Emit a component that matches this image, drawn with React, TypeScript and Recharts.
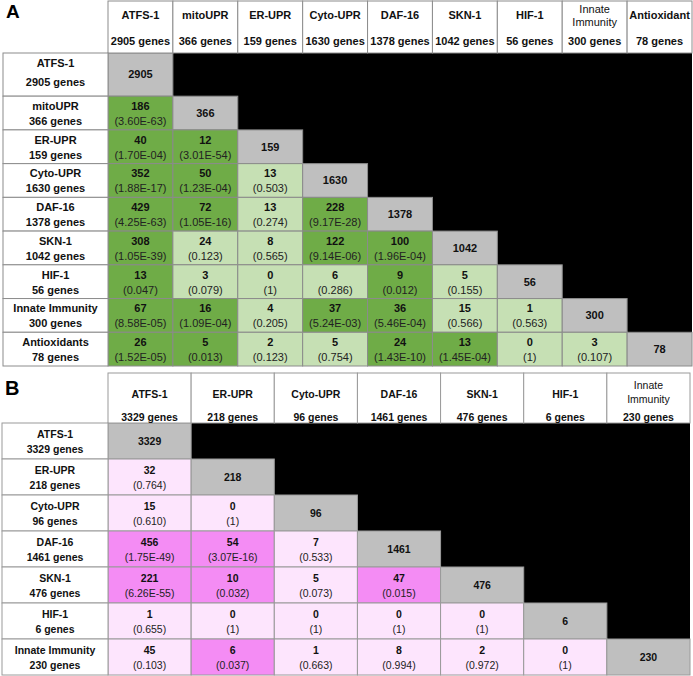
import React from "react"
import { ScatterChart, Scatter, XAxis, YAxis, ReferenceArea } from "recharts"

// Panel A
const aRowLabels = ["ATFS-1", "mitoUPR", "ER-UPR", "Cyto-UPR", "DAF-16", "SKN-1", "HIF-1", "Innate Immunity", "Antioxidants"]
const aColLabels = ["ATFS-1", "mitoUPR", "ER-UPR", "Cyto-UPR", "DAF-16", "SKN-1", "HIF-1", "Innate\nImmunity", "Antioxidant"]
const aGenes = [2905, 366, 159, 1630, 1378, 1042, 56, 300, 78]
const aOverlap = [
    [],
    [186],
    [40, 12],
    [352, 50, 13],
    [429, 72, 13, 228],
    [308, 24, 8, 122, 100],
    [13, 3, 0, 6, 9, 5],
    [67, 16, 4, 37, 36, 15, 1],
    [26, 5, 2, 5, 24, 13, 0, 3],
]
const aPValues = [
    [],
    ["3.60E-63"],
    ["1.70E-04", "3.01E-54"],
    ["1.88E-17", "1.23E-04", "0.503"],
    ["4.25E-63", "1.05E-16", "0.274", "9.17E-28"],
    ["1.05E-39", "0.123", "0.565", "9.14E-06", "1.96E-04"],
    ["0.047", "0.079", "1", "0.286", "0.012", "0.155"],
    ["8.58E-05", "1.09E-04", "0.205", "5.24E-03", "5.46E-04", "0.566", "0.563"],
    ["1.52E-05", "0.013", "0.123", "0.754", "1.43E-10", "1.45E-04", "1", "0.107"],
]

// Panel B
const bRowLabels = ["ATFS-1", "ER-UPR", "Cyto-UPR", "DAF-16", "SKN-1", "HIF-1", "Innate Immunity"]
const bColLabels = ["ATFS-1", "ER-UPR", "Cyto-UPR", "DAF-16", "SKN-1", "HIF-1", "Innate\nImmunity"]
const bGenes = [3329, 218, 96, 1461, 476, 6, 230]
const bOverlap = [
    [],
    [32],
    [15, 0],
    [456, 54, 7],
    [221, 10, 5, 47],
    [1, 0, 0, 0, 0],
    [45, 6, 1, 8, 2, 0],
]
const bPValues = [
    [],
    ["0.764"],
    ["0.610", "1"],
    ["1.75E-49", "3.07E-16", "0.533"],
    ["6.26E-55", "0.032", "0.073", "0.015"],
    ["0.655", "1", "1", "1", "1"],
    ["0.103", "0.037", "0.663", "0.994", "0.972", "1"],
]

const FONT = "'Liberation Sans', Arial, sans-serif"
const SIG = 0.05

type PanelProps = {
    top: number
    width: number
    height: number
    margin: { top: number; left: number; right: number; bottom: number }
    headerH: number
    labelW: number
    firstRowExtra: number
    rowLabels: string[]
    colLabels: string[]
    genes: number[]
    overlap: number[][]
    pvalues: string[][]
    sigColor: string
    nsColor: string
    lineColor: string
    font: number
    headerLines: { single: number; two: [number, number]; genes: number }
}

function Panel(p: PanelProps) {
    const n = p.genes.length
    const extra = p.firstRowExtra
    const rowTop = (i: number) => (i === 0 ? 0 : i + extra)
    const rowBottom = (i: number) => i + 1 + extra
    const rowCenter = (i: number) => (rowTop(i) + rowBottom(i)) / 2
    const yMax = n + extra

    const plotLeft = p.margin.left + p.labelW
    const plotTop = p.margin.top + p.headerH
    const plotW = p.width - plotLeft - p.margin.right
    const plotH = p.height - plotTop - p.margin.bottom
    const colW = plotW / n
    const ppu = plotH / yMax
    const rowH = (i: number) => (rowBottom(i) - rowTop(i)) * ppu
    const rowOf = (v: number) => (v < 1 + extra ? 0 : Math.floor(v - extra))

    const cells: any[] = []
    p.genes.forEach((g, i) => {
        for (let j = 0; j <= i; j++) {
            const diag = i === j
            cells.push({
                x: j + 0.5,
                y: rowCenter(i),
                row: i,
                diag,
                value: diag ? g : p.overlap[i][j],
                p: diag ? null : p.pvalues[i][j],
            })
        }
    })

    const headerTick = (props: any) => {
        const { x, payload } = props
        const idx = Math.floor(payload.value)
        const parts = p.colLabels[idx].split("\n")
        const hl = p.headerLines
        return (
            <g>
                <rect x={x - colW / 2} y={p.margin.top} width={colW} height={p.headerH} fill="#fff" stroke={p.lineColor} />
                {parts.length === 1 ? (
                    <text x={x} y={p.margin.top + hl.single} textAnchor="middle" dy="0.35em" fontSize={p.font} fontWeight="bold" fontFamily={FONT} fill="#111">{parts[0]}</text>
                ) : (
                    parts.map((t, k) => (
                        <text key={k} x={x} y={p.margin.top + hl.two[k]} textAnchor="middle" dy="0.35em" fontSize={p.font} fontFamily={FONT} fill="#111">{t}</text>
                    ))
                )}
                <text x={x} y={p.margin.top + hl.genes} textAnchor="middle" dy="0.35em" fontSize={p.font} fontWeight="bold" fontFamily={FONT} fill="#111">{p.genes[idx]} genes</text>
            </g>
        )
    }

    const rowTick = (props: any) => {
        const { y, payload } = props
        const i = rowOf(payload.value)
        const h = rowH(i)
        const cx = p.margin.left + p.labelW / 2
        const off = i === 0 && extra > 0 ? [-11, 8] : [-7, 8]
        return (
            <g>
                <rect x={p.margin.left} y={y - h / 2} width={p.labelW} height={h} fill="#fff" stroke={p.lineColor} />
                <text x={cx} y={y + off[0]} textAnchor="middle" dy="0.35em" fontSize={p.font} fontWeight="bold" fontFamily={FONT} fill="#111">{p.rowLabels[i]}</text>
                <text x={cx} y={y + off[1]} textAnchor="middle" dy="0.35em" fontSize={p.font} fontWeight="bold" fontFamily={FONT} fill="#111">{p.genes[i]} genes</text>
            </g>
        )
    }

    const cellShape = (props: any) => {
        const { cx, cy, payload } = props
        const h = rowH(payload.row)
        const fill = payload.diag ? "#bfbfbf" : parseFloat(payload.p) < SIG ? p.sigColor : p.nsColor
        return (
            <g>
                <rect x={cx - colW / 2} y={cy - h / 2} width={colW} height={h} fill={fill} stroke={p.lineColor} />
                {payload.diag ? (
                    <text x={cx} y={cy} textAnchor="middle" dy="0.35em" fontSize={p.font} fontWeight="bold" fontFamily={FONT} fill="#111">{payload.value}</text>
                ) : (
                    <>
                        <text x={cx} y={cy - 7} textAnchor="middle" dy="0.35em" fontSize={p.font} fontWeight="bold" fontFamily={FONT} fill="#111">{payload.value}</text>
                        <text x={cx} y={cy + 8} textAnchor="middle" dy="0.35em" fontSize={p.font} fontFamily={FONT} fill="#222">({payload.p})</text>
                    </>
                )}
            </g>
        )
    }

    return (
        <div style={{ position: "absolute", left: 0, top: p.top }}>
            <ScatterChart width={p.width} height={p.height} margin={p.margin}>
                <XAxis
                    type="number"
                    dataKey="x"
                    orientation="top"
                    domain={[0, n]}
                    ticks={p.genes.map((_, j) => j + 0.5)}
                    interval={0}
                    height={p.headerH}
                    tickLine={false}
                    axisLine={false}
                    tick={headerTick}
                />
                <YAxis
                    type="number"
                    dataKey="y"
                    reversed
                    domain={[0, yMax]}
                    ticks={p.genes.map((_, i) => rowCenter(i))}
                    interval={0}
                    width={p.labelW}
                    tickLine={false}
                    axisLine={false}
                    tick={rowTick}
                />
                <ReferenceArea x1={0} x2={n} y1={0} y2={yMax} fill="#000" fillOpacity={1} stroke="none" />
                <Scatter data={cells} isAnimationActive={false} shape={cellShape} />
            </ScatterChart>
        </div>
    )
}

export default function App() {
    return (
        <div style={{ position: "absolute", left: 0, top: 0, width: 693, height: 676, background: "#fff" }}>
            <Panel
                top={0}
                width={693}
                height={370}
                margin={{ top: 1, left: 3, right: 1, bottom: 4 }}
                headerH={52}
                labelW={105}
                firstRowExtra={0.28}
                rowLabels={aRowLabels}
                colLabels={aColLabels}
                genes={aGenes}
                overlap={aOverlap}
                pvalues={aPValues}
                sigColor="#6fac47"
                nsColor="#c6e0b4"
                lineColor="#8c8c8c"
                font={11}
                headerLines={{ single: 14, two: [8, 21], genes: 40 }}
            />
            <Panel
                top={370}
                width={693}
                height={306}
                margin={{ top: 3, left: 2, right: 3, bottom: 1 }}
                headerH={50}
                labelW={106}
                firstRowExtra={0}
                rowLabels={bRowLabels}
                colLabels={bColLabels}
                genes={bGenes}
                overlap={bOverlap}
                pvalues={bPValues}
                sigColor="#f48cf4"
                nsColor="#fde5fd"
                lineColor="#9a9a9a"
                font={10.5}
                headerLines={{ single: 21, two: [12, 26], genes: 44 }}
            />
            <div style={{ position: "absolute", left: 6, top: 2, fontFamily: FONT, fontWeight: "bold", fontSize: 19, lineHeight: 1 }}>A</div>
            <div style={{ position: "absolute", left: 5, top: 378, fontFamily: FONT, fontWeight: "bold", fontSize: 20, lineHeight: 1 }}>B</div>
        </div>
    )
}
